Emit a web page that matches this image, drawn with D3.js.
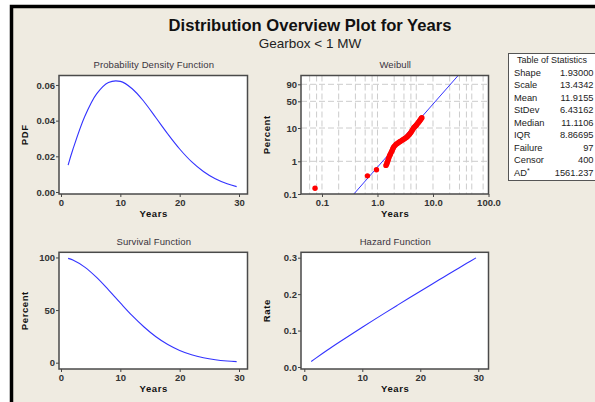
<!DOCTYPE html>
<html>
<head>
<meta charset="utf-8">
<script src="https://cdn.jsdelivr.net/npm/d3@7"></script>
<style>
  body { margin: 0; background: #fff; }
  svg { display: block; font-family: "Liberation Sans", Arial, sans-serif; }
</style>
</head>
<body>
<div id="chart"></div>
<script>
// values
var years    = [1.2, 2, 4, 6, 8, 10, 12, 14, 16, 18, 20, 22, 24, 26, 28, 29.6];
var pdf      = [0.0151, 0.0238, 0.0423, 0.0550, 0.0614, 0.0620, 0.0579, 0.0506, 0.0416, 0.0325, 0.0241, 0.0170, 0.0115, 0.0074, 0.0046, 0.0030];
var survival = [99.1, 97.5, 90.8, 81.0, 69.2, 56.8, 44.7, 33.9, 24.6, 17.2, 11.6, 7.5, 4.7, 2.8, 1.6, 1.0];
var hazard   = [0.0152, 0.0244, 0.0466, 0.0679, 0.0887, 0.1092, 0.1294, 0.1493, 0.1690, 0.1886, 0.2080, 0.2273, 0.2464, 0.2655, 0.2845, 0.2995];

// weibull probability plot points (time, percent)
var failTime = [0.075, 0.66, 0.96, 1.42, 1.46, 1.49, 1.52, 1.55, 1.58, 1.62, 1.66, 1.70, 1.74, 1.79, 1.84, 1.89, 1.94, 2.00, 2.08, 2.17,
                2.28, 2.40, 2.52, 2.64, 2.78, 2.92, 3.06, 3.20, 3.36, 3.50, 3.64, 3.78, 3.92, 4.05, 4.18, 4.30, 4.42, 4.55, 4.70, 4.85,
                5.00, 5.15, 5.30, 5.45, 5.60, 5.75, 5.90, 6.05, 6.20, 6.30];
var failPct  = [0.15, 0.36, 0.55, 0.75, 0.82, 0.90, 0.98, 1.08, 1.2, 1.35, 1.5, 1.62, 1.78, 1.95, 2.15, 2.4, 2.65, 2.85, 3.05, 3.3,
                3.5, 3.7, 3.9, 4.1, 4.35, 4.6, 4.85, 5.1, 5.35, 5.7, 6.1, 6.6, 7.1, 7.7, 8.3, 9.0, 9.7, 10.3, 10.9, 11.5,
                12.1, 12.8, 13.6, 14.4, 15.2, 16.1, 17.0, 18.0, 19.0, 19.6];
var fitTime = [0.375, 28.9];
var fitPct  = [0.1, 98.8];

var pctTicks  = [0.1, 1, 10, 50, 90];
var timeTicks = [0.1, 1, 10, 100];
var gridTimes = [0.06, 0.08, 0.1, 0.2, 0.4, 0.6, 0.8, 1, 2, 3, 4, 5, 10, 20, 30, 40, 50, 80];

var statNames  = ["Shape", "Scale", "Mean", "StDev", "Median", "IQR", "Failure", "Censor", "AD"];
var statValues = ["1.93000", "13.4342", "11.9155", "6.43162", "11.1106", "8.86695", "97", "400", "1561.237"];

var W = 595, H = 402;
var blue = "#3333ff";

var svg = d3.select("#chart").append("svg")
  .attr("width", W).attr("height", H);

// background and the black border on the top and left
svg.append("rect").attr("x", 12).attr("y", 7).attr("width", W).attr("height", H)
  .attr("fill", "#efebe1");
svg.append("path").attr("d", "M11.5," + H + "V6.5H" + W)
  .attr("fill", "none").attr("stroke", "#000").attr("stroke-width", 3.5);

// titles
svg.append("text").attr("x", 310).attr("y", 31).attr("text-anchor", "middle")
  .style("font-size", "16.6px").style("font-weight", "bold").attr("fill", "#111")
  .text("Distribution Overview Plot for Years");
svg.append("text").attr("x", 310).attr("y", 48).attr("text-anchor", "middle")
  .style("font-size", "13.5px").attr("fill", "#222")
  .text("Gearbox < 1 MW");

var cols = [[59, 247.5], [301, 488.5]];
var rows = [[75.5, 194], [252.3, 369]];

function frame(c, r, title, ylabel, xlabel) {
  var g = svg.append("g");
  var x0 = cols[c][0], x1 = cols[c][1], y0 = rows[r][0], y1 = rows[r][1];
  g.append("rect").attr("x", x0).attr("y", y0).attr("width", x1 - x0).attr("height", y1 - y0)
    .attr("fill", "#fff");
  g.append("text").attr("x", (x0 + x1) / 2 + 0.5).attr("y", y0 - 7.5).attr("text-anchor", "middle")
    .style("font-size", "9.5px").style("letter-spacing", "0.1px").attr("fill", "#3a3440")
    .text(title);
  var cy = (y0 + y1) / 2;
  g.append("text").attr("transform", "translate(" + (x0 - 31) + "," + cy + ") rotate(-90)")
    .attr("text-anchor", "middle")
    .style("font-size", "9.5px").style("font-weight", "bold").style("letter-spacing", "0.6px")
    .attr("fill", "#111").text(ylabel);
  if (xlabel) {
    g.append("text").attr("x", (x0 + x1) / 2 + 0.5).attr("y", y1 + 23).attr("text-anchor", "middle")
      .style("font-size", "9.5px").style("font-weight", "bold").style("letter-spacing", "0.6px")
      .attr("fill", "#111").text(xlabel);
  }
  return g;
}

function border(g, c, r) {
  var x0 = cols[c][0], x1 = cols[c][1], y0 = rows[r][0], y1 = rows[r][1];
  g.append("rect").attr("x", x0).attr("y", y0).attr("width", x1 - x0).attr("height", y1 - y0)
    .attr("fill", "none").attr("stroke", "#4a4a4a").attr("stroke-width", 1.5);
}

function styleAxis(sel) {
  sel.select(".domain").remove();
  sel.selectAll(".tick line").attr("stroke", "#444");
  sel.selectAll(".tick text")
    .style("font-size", "9.5px").style("font-weight", "bold")
    .style("font-family", "'Liberation Sans', Arial, sans-serif")
    .attr("fill", "#333");
}

function linePanel(c, r, title, ylabel, xDomain, yDomain, yTicks, yFmt, values) {
  var g = frame(c, r, title, ylabel, "Years");
  var x = d3.scaleLinear().domain(xDomain).range(cols[c]);
  var y = d3.scaleLinear().domain(yDomain).range([rows[r][1], rows[r][0]]);

  g.append("g").attr("transform", "translate(0," + rows[r][1] + ")")
    .call(d3.axisBottom(x).tickValues([0, 10, 20, 30]).tickSize(3).tickPadding(2))
    .call(styleAxis);
  g.append("g").attr("transform", "translate(" + cols[c][0] + ",0)")
    .call(d3.axisLeft(y).tickValues(yTicks).tickFormat(yFmt).tickSize(3).tickPadding(1))
    .call(styleAxis);

  g.append("path")
    .datum(d3.zip(years, values))
    .attr("fill", "none").attr("stroke", blue).attr("stroke-width", 1.1)
    .attr("d", d3.line()
      .x(d => x(d[0]))
      .y(d => y(d[1]))
      .curve(d3.curveCatmullRom));
  border(g, c, r);
}

// Probability Density Function
linePanel(0, 0, "Probability Density Function", "PDF",
  [-0.337, 31.43], [-0.00112, 0.0653], [0, 0.02, 0.04, 0.06], d3.format(".2f"), pdf);

// Survival Function
linePanel(0, 1, "Survival Function", "Percent",
  [-0.337, 31.43], [-6.0, 104.9], [0, 50, 100], d3.format("d"), survival);

// Hazard Function
linePanel(1, 1, "Hazard Function", "Rate",
  [-0.569, 31.76], [-0.0055, 0.3148], [0, 0.1, 0.2, 0.3], d3.format(".1f"), hazard);

// Weibull probability plot
(function () {
  var c = 1, r = 0;
  var g = frame(c, r, "Weibull", "Percent", "Years");
  var x = d3.scaleLog().domain([0.0419, 100]).range(cols[c]);
  var wb = p => Math.log(-Math.log(1 - p / 100));
  var yl = d3.scaleLinear().domain([-6.907, 1.455]).range([rows[r][1], rows[r][0]]);
  var y = p => yl(wb(p));

  var grid = g.append("g").attr("stroke", "#cccccc").attr("stroke-width", 1)
    .attr("stroke-dasharray", "6,3");
  grid.selectAll(".vg").data(gridTimes).join("line")
    .attr("x1", d => x(d)).attr("x2", d => x(d))
    .attr("y1", rows[r][0]).attr("y2", rows[r][1]);
  grid.selectAll(".hg").data(pctTicks.slice(1)).join("line")
    .attr("x1", cols[c][0]).attr("x2", cols[c][1])
    .attr("y1", d => y(d)).attr("y2", d => y(d));

  g.append("g").attr("transform", "translate(0," + rows[r][1] + ")")
    .call(d3.axisBottom(x).tickValues(timeTicks).tickFormat(d3.format(".1f")).tickSize(3).tickPadding(2))
    .call(styleAxis);
  g.append("g").attr("transform", "translate(" + cols[c][0] + ",0)")
    .call(d3.axisLeft(yl).tickValues(pctTicks.map(wb)).tickFormat((d, i) => pctTicks[i]).tickSize(3).tickPadding(1))
    .call(styleAxis);

  svg.append("clipPath").attr("id", "wclip").append("rect")
    .attr("x", cols[c][0]).attr("y", rows[r][0])
    .attr("width", cols[c][1] - cols[c][0]).attr("height", rows[r][1] - rows[r][0]);

  g.append("path")
    .datum(d3.zip(fitTime, fitPct))
    .attr("clip-path", "url(#wclip)")
    .attr("fill", "none").attr("stroke", blue).attr("stroke-width", 1)
    .attr("d", d3.line().x(d => x(d[0])).y(d => y(d[1])));

  g.selectAll(".pt").data(d3.zip(failTime, failPct)).join("circle")
    .attr("cx", d => x(d[0])).attr("cy", d => y(d[1])).attr("r", 2.7)
    .attr("fill", "#ff0000");

  border(g, c, r);
})();

// Table of Statistics
var tb = svg.append("g");
tb.append("rect").attr("x", 508.5).attr("y", 53.5).attr("width", 95).attr("height", 127)
  .attr("fill", "#fff").attr("stroke", "#555").attr("stroke-width", 1);
tb.append("text").attr("x", 552).attr("y", 63).attr("text-anchor", "middle")
  .style("font-size", "9px").attr("fill", "#222").text("Table of Statistics");
var ry = d3.scalePoint().domain(statNames).range([76, 175.5]);
statNames.forEach((n, i) => {
  var t = tb.append("text").attr("x", 514).attr("y", ry(n))
    .style("font-size", "9.3px").attr("fill", "#222").text(n);
  if (n === "AD") t.append("tspan").attr("dy", -3).style("font-size", "7px").text("*");
  tb.append("text").attr("x", 593.5).attr("y", ry(n)).attr("text-anchor", "end")
    .style("font-size", "9.3px").attr("fill", "#222").text(statValues[i]);
});
</script>
</body>
</html>
